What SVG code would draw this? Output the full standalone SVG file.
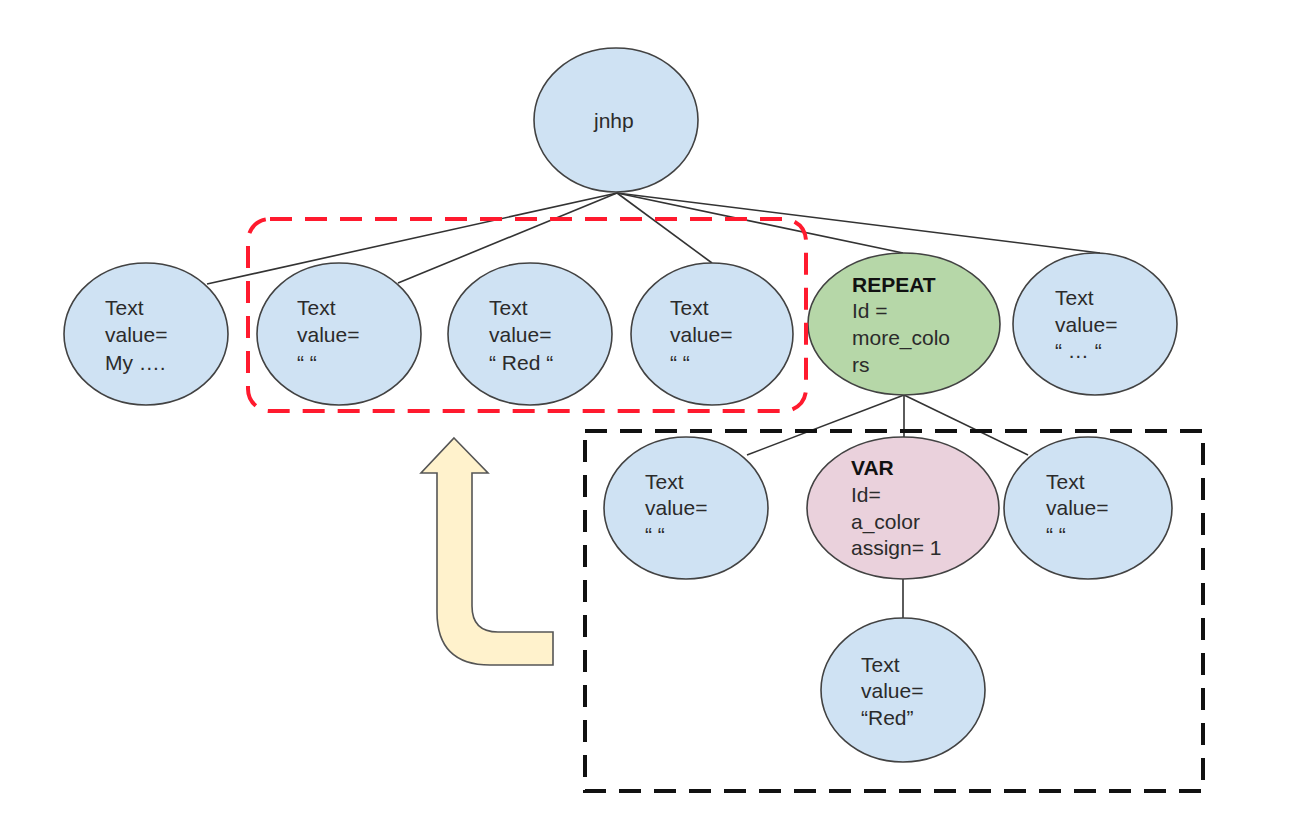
<svg xmlns="http://www.w3.org/2000/svg" width="1306" height="824" viewBox="0 0 1306 824">
  <style>
    .node { stroke: #424242; stroke-width: 1.6; }
    .blue { fill: #cfe2f3; }
    .green { fill: #b6d7a8; }
    .pink { fill: #ead1dc; }
    .label { font-family: "Liberation Sans", Arial, sans-serif; font-size: 21px; fill: #2b2b2b; }
    .bold { font-weight: bold; fill: #111; }
    .edge { stroke: #333; stroke-width: 1.6; fill: none; }
    .group-red { fill: none; stroke: #ff1a2e; stroke-width: 4; stroke-dasharray: 22 13; }
    .group-black { fill: none; stroke: #111; stroke-width: 4; stroke-dasharray: 22 13; }
  </style>
  <rect width="1306" height="824" fill="#ffffff"/>

  <!-- tree edges -->
  <g id="connectors">
    <line class="edge" x1="617" y1="193" x2="207" y2="284"/>
    <line class="edge" x1="617" y1="193" x2="398" y2="283"/>
    <line class="edge" x1="617" y1="193" x2="712" y2="263"/>
    <line class="edge" x1="617" y1="193" x2="903" y2="253"/>
    <line class="edge" x1="617" y1="193" x2="1100" y2="253"/>
    <line class="edge" x1="904" y1="395" x2="747" y2="455"/>
    <line class="edge" x1="904" y1="395" x2="904" y2="437"/>
    <line class="edge" x1="904" y1="395" x2="1028" y2="455"/>
    <line class="edge" x1="903" y1="578" x2="903" y2="618"/>
  </g>

  <g id="root">
    <ellipse class="node blue" cx="616" cy="120" rx="82" ry="72"/>
    <text class="label" x="594" y="128">jnhp</text>
  </g>

  <g id="text-my">
    <ellipse class="node blue" cx="146" cy="334" rx="82" ry="71"/>
    <text class="label" x="105" y="315">Text</text>
    <text class="label" x="105" y="342">value=</text>
    <text class="label" x="105" y="370">My ….</text>
  </g>

  <g id="text-space-1">
    <ellipse class="node blue" cx="339" cy="334" rx="82" ry="71"/>
    <text class="label" x="297" y="315">Text</text>
    <text class="label" x="297" y="342">value=</text>
    <text class="label" x="297" y="370">“ “</text>
  </g>

  <g id="text-red-1">
    <ellipse class="node blue" cx="530" cy="334" rx="82" ry="71"/>
    <text class="label" x="489" y="315">Text</text>
    <text class="label" x="489" y="342">value=</text>
    <text class="label" x="489" y="370">“ Red “</text>
  </g>

  <g id="text-space-2">
    <ellipse class="node blue" cx="712" cy="334" rx="81" ry="71"/>
    <text class="label" x="670" y="315">Text</text>
    <text class="label" x="670" y="342">value=</text>
    <text class="label" x="670" y="370">“ “</text>
  </g>

  <g id="repeat">
    <ellipse class="node green" cx="904" cy="324" rx="96" ry="71"/>
    <text class="label bold" x="852" y="292">REPEAT</text>
    <text class="label" x="852" y="318">Id =</text>
    <text class="label" x="852" y="345">more_colo</text>
    <text class="label" x="852" y="372">rs</text>
  </g>

  <g id="text-ellipsis">
    <ellipse class="node blue" cx="1095" cy="324" rx="82" ry="71"/>
    <text class="label" x="1055" y="305">Text</text>
    <text class="label" x="1055" y="332">value=</text>
    <text class="label" x="1055" y="358">“ … “</text>
  </g>

  <g id="text-space-3">
    <ellipse class="node blue" cx="686" cy="508" rx="82" ry="71"/>
    <text class="label" x="645" y="489">Text</text>
    <text class="label" x="645" y="515">value=</text>
    <text class="label" x="645" y="542">“ “</text>
  </g>

  <g id="var">
    <ellipse class="node pink" cx="903" cy="508" rx="96" ry="71"/>
    <text class="label bold" x="851" y="475">VAR</text>
    <text class="label" x="851" y="502">Id=</text>
    <text class="label" x="851" y="529">a_color</text>
    <text class="label" x="851" y="555">assign= 1</text>
  </g>

  <g id="text-space-4">
    <ellipse class="node blue" cx="1088" cy="508" rx="84" ry="71"/>
    <text class="label" x="1046" y="489">Text</text>
    <text class="label" x="1046" y="515">value=</text>
    <text class="label" x="1046" y="542">“ “</text>
  </g>

  <g id="text-red-2">
    <ellipse class="node blue" cx="903" cy="690" rx="82" ry="72"/>
    <text class="label" x="861" y="672">Text</text>
    <text class="label" x="861" y="698">value=</text>
    <text class="label" x="861" y="725">“Red”</text>
  </g>

  <!-- grouping frames -->
  <rect class="group-red" x="248" y="219" width="558" height="192" rx="22" ry="22"/>
  <rect class="group-black" x="585" y="431" width="618" height="360"/>

  <!-- bent arrow pointing up -->
  <path d="M454,438 L488,473 L472,473 L472,606 Q472,632 498,632 L553,632 L553,665 L490,665 Q437,665 437,612 L437,473 L421,473 Z"
        fill="#fff2cc" stroke="#555" stroke-width="1.6" stroke-linejoin="miter"/>
</svg>
